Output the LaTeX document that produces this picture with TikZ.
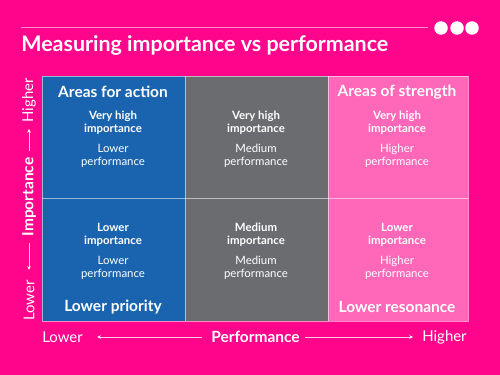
\documentclass[tikz,border=0pt]{standalone}
\usepackage{fontspec}
\setmainfont{Lato}
\usepackage{tikz}
\usetikzlibrary{arrows.meta}

\definecolor{bgpink}{HTML}{FF058C}
\definecolor{qblue}{HTML}{1A64AF}
\definecolor{qgray}{HTML}{6B6C70}
\definecolor{qpink}{HTML}{FF68B9}

\begin{document}
\begin{tikzpicture}[x=0.02cm,y=-0.02cm]
        \tikzstyle{every node} = [text=white, inner sep=0pt]
        \tikzstyle{head} = [font=\bfseries\fontsize{8.8}{10.5}\selectfont]
        \tikzstyle{imp} = [align=center, font=\bfseries\fontsize{6.5}{7.4}\selectfont]
        \tikzstyle{perf} = [align=center, font=\fontsize{6.5}{7.4}\selectfont]
        \tikzstyle{axis} = [font=\fontsize{8.5}{10}\selectfont]
        \tikzstyle{rule} = [draw=white, draw opacity=0.55, line width=0.4pt]
        \tikzstyle{axisarrow} = [draw=white, draw opacity=0.8, line width=0.4pt,
            -{Stealth[length=2.2pt,width=2.2pt]}]
        \tikzstyle{dot} = [circle, fill=white, minimum size=0.27cm]

        \fill[bgpink] (0,0) rectangle (500,375);
        \useasboundingbox (0,0) rectangle (500,375);

        % title
        \draw[rule] (21,27) -- (428,27);
        \foreach \n/\x in {d1/441, d2/457, d3/472}
            \node[dot] (\n) at (\x,28) {};
        \node[anchor=base west, font=\bfseries\fontsize{12.2}{14}\selectfont] (title)
            at (21,51.5) {Measuring importance vs performance};

        % quadrants
        \foreach \xa/\xb/\c in {42/185/qblue, 185/328/qgray, 328/468/qpink}
            \fill[\c] (\xa,76) rectangle (\xb,321);
        \draw[rule] (42,76) rectangle (468,321);
        \draw[rule] (185,76) -- (185,321);
        \draw[rule] (328,76) -- (328,321);
        \draw[rule] (42,198) -- (468,198);

        \node[head] (action) at (113,92) {Areas for action};
        \node[head] (strength) at (397,92) {Areas of strength};
        \node[head] (priority) at (113,307) {Lower priority};
        \node[head] (resonance) at (397,307) {Lower resonance};

        \foreach \n/\x/\y/\imp/\perf in {
            tl/113/122.5/{Very high\\importance}/{Lower\\performance},
            tm/256/122.5/{Very high\\importance}/{Medium\\performance},
            tr/397/122.5/{Very high\\importance}/{Higher\\performance},
            bl/113/234.5/{Lower\\importance}/{Lower\\performance},
            bm/256/234.5/{Medium\\importance}/{Medium\\performance},
            br/397/234.5/{Lower\\importance}/{Higher\\performance}}
        {
            \node[imp] (\n-imp) at (\x,\y) {\imp};
            \node[perf] (\n-perf) at (\x,\y+33) {\perf};
        }

        % axes
        \node[axis, anchor=west] (xlow) at (42,337) {Lower};
        \node[axis, font=\bfseries\fontsize{8.8}{10.5}\selectfont] (xperf) at (255.5,337) {Performance};
        \node[axis, anchor=east] (xhigh) at (467,337) {Higher};
        \draw[axisarrow, shorten <=0.18cm, shorten >=0.28cm] (xperf.west) -- (xlow.east);
        \draw[axisarrow, shorten <=0.1cm, shorten >=0.18cm] (xperf.east) -- (xhigh.west);

        \node[axis, rotate=90, anchor=west] (ylow) at (29,321) {Lower};
        \node[axis, rotate=90, font=\bfseries\fontsize{8.8}{10.5}\selectfont] (yimp) at (29,197) {Importance};
        \node[axis, rotate=90, anchor=east] (yhigh) at (29,78) {Higher};
        \draw[axisarrow, shorten <=0.12cm, shorten >=0.2cm] (yimp.west) -- (ylow.east);
        \draw[axisarrow, shorten <=0.12cm, shorten >=0.12cm] (yimp.east) -- (yhigh.west);
\end{tikzpicture}
\end{document}
